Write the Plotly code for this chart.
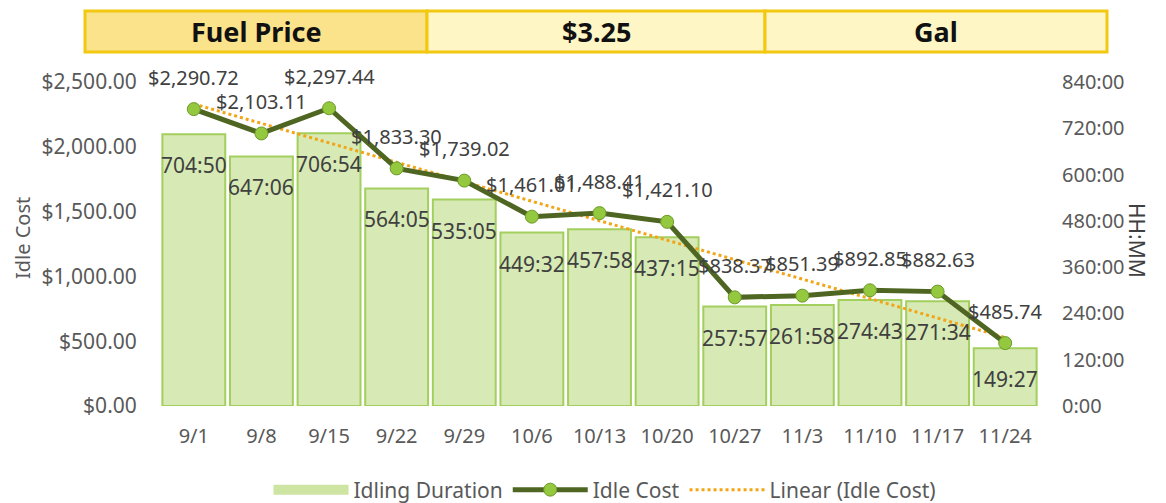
import numpy as np
import plotly.graph_objects as go

# ---- data ----
weeks = ["9/1", "9/8", "9/15", "9/22", "9/29", "10/6", "10/13", "10/20",
         "10/27", "11/3", "11/10", "11/17", "11/24"]
idle_cost = [2290.72, 2103.11, 2297.44, 1833.30, 1739.02, 1461.01, 1488.41,
             1421.10, 838.37, 851.39, 892.85, 882.63, 485.74]
idle_duration = ["704:50", "647:06", "706:54", "564:05", "535:05", "449:32",
                 "457:58", "437:15", "257:57", "261:58", "274:43", "271:34",
                 "149:27"]
header_cells = ["Fuel Price", "$3.25", "Gal"]
cost_ticks = [0, 500, 1000, 1500, 2000, 2500]
hour_ticks = [0, 120, 240, 360, 480, 600, 720, 840]

def to_hours(s):
    h, m = s.split(":")
    return int(h) + int(m) / 60.0

dur_hours = [to_hours(s) for s in idle_duration]
idx = np.arange(len(weeks))
slope, intercept = np.polyfit(idx, idle_cost, 1)
trend = [slope * i + intercept for i in idx]

FONT = "Noto Sans"
GRAY = "#595959"
BAR_FILL = "#D7E9B4"

# page has an 8px body margin; work in screenshot pixels and convert
OFF = 8
W, H = 1158, 495
ml, mt = 160 - OFF, 82 - OFF
plot_right, plot_bottom = 1039 - OFF, 406 - OFF
mr, mb = W - plot_right, H - plot_bottom
pw = W - ml - mr
ph = H - mt - mb
def px_x(p):
    return (p - OFF - ml) / pw
def px_y(p):
    return (H - mb - (p - OFF)) / ph

fig = go.Figure()
fig.add_trace(go.Bar(
    x=weeks, y=dur_hours, name="Idling Duration", yaxis="y",
    marker=dict(color=BAR_FILL, line=dict(color="#A2CF5E", width=2)),
    showlegend=False, hoverinfo="skip"))
# legend swatch for the bars (wide rectangle like the reference)
fig.add_trace(go.Scatter(
    x=[None], y=[None], name="Idling Duration", mode="lines", yaxis="y",
    line=dict(color="#CDE4A2", width=10), legendrank=1))
fig.add_trace(go.Scatter(
    x=weeks, y=trend, name="Linear (Idle Cost)", yaxis="y2", mode="lines",
    line=dict(color="#F2A516", width=3, dash="dot"), legendrank=3))
fig.add_trace(go.Scatter(
    x=weeks, y=idle_cost, name="Idle Cost", yaxis="y2", mode="lines+markers",
    line=dict(color="#4F6622", width=5),
    marker=dict(size=13, color="#93C83F", line=dict(color="#6E9A2A", width=1)),
    legendrank=2))

ann = []
for w, h, s in zip(weeks, dur_hours, idle_duration):
    ann.append(dict(x=w, y=h, xref="x", yref="y", text=s, showarrow=False,
                    xanchor="center", yanchor="top", yshift=-15,
                    font=dict(family=FONT, size=21, color="#404040")))
for w, c in zip(weeks, idle_cost):
    ann.append(dict(x=w, y=c, xref="x", yref="y2", text=f"${c:,.2f}",
                    showarrow=False, xanchor="center", yanchor="middle",
                    yshift=32, font=dict(family=FONT, size=20, color="#404040")))

ann.append(dict(x=px_x(22), y=px_y(238), xref="paper", yref="paper",
                text="Idle Cost", textangle=-90, showarrow=False,
                xanchor="center", yanchor="middle",
                font=dict(family=FONT, size=20, color=GRAY)))
ann.append(dict(x=px_x(1137), y=px_y(240), xref="paper", yref="paper",
                text="HH:MM", textangle=90, showarrow=False,
                xanchor="center", yanchor="middle",
                font=dict(family=FONT, size=21, color="#404040")))

edges = [85, 427, 765, 1107]
fills = ["#FBE38C", "#FFF6C6", "#FFF6C6"]
shapes = []
for i, txt in enumerate(header_cells):
    x0, x1 = px_x(edges[i]), px_x(edges[i + 1])
    shapes.append(dict(type="rect", xref="paper", yref="paper",
                       x0=x0, x1=x1, y0=px_y(52), y1=px_y(11),
                       fillcolor=fills[i], line=dict(color="#F2C811", width=3),
                       layer="above"))
    ann.append(dict(x=(x0 + x1) / 2, y=px_y(32), xref="paper", yref="paper",
                    text=f"<b>{txt}</b>", showarrow=False,
                    xanchor="center", yanchor="middle",
                    font=dict(family=FONT, size=27, color="#111111")))

fig.update_layout(
    width=W, height=H,
    margin=dict(l=ml, r=mr, t=mt, b=mb, autoexpand=False),
    paper_bgcolor="white", plot_bgcolor="white",
    font=dict(family=FONT, size=20, color=GRAY),
    bargap=0.07,
    showlegend=True,
    legend=dict(orientation="h", x=px_x(605), xanchor="center",
                yref="container", y=(H - (490 - OFF)) / H, yanchor="middle",
                font=dict(size=21, color=GRAY), itemwidth=75,
                tracegroupgap=0),
    xaxis=dict(type="category", range=[-0.5, len(weeks) - 0.5],
               showgrid=False, showline=False,
               automargin=False, ticks="outside", ticklen=12,
               tickcolor="rgba(0,0,0,0)",
               tickfont=dict(size=20, color=GRAY)),
    yaxis=dict(side="right", range=[0, 840], tickvals=hour_ticks,
               ticktext=[f"{v}:00" for v in hour_ticks], showgrid=False,
               zeroline=False, showline=False, automargin=False,
               ticks="outside", ticklen=18, tickcolor="rgba(0,0,0,0)",
               tickfont=dict(size=20, color=GRAY)),
    yaxis2=dict(side="left", overlaying="y", range=[0, 2500],
                tickvals=cost_ticks, tickformat="$,.2f", showgrid=False,
                zeroline=False, showline=False, automargin=False,
                ticks="outside", ticklen=18, tickcolor="rgba(0,0,0,0)",
                tickfont=dict(size=21, color=GRAY)),
    annotations=ann,
    shapes=shapes,
)

fig.write_html("out.html")
